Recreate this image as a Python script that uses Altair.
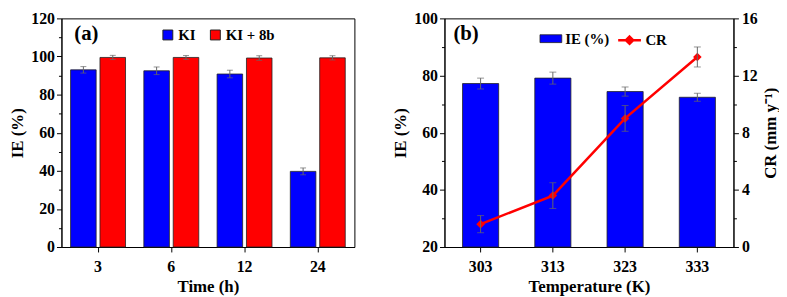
import altair as alt
import pandas as pd

# ---- data panel (a) ----
time = ["3", "6", "12", "24"]
ki = [93.0, 92.5, 90.8, 39.7]
ki_err = [1.7, 2.0, 2.0, 1.8]
ki8b = [99.5, 99.5, 99.2, 99.3]
ki8b_err = [1.1, 1.0, 1.2, 1.1]
series_a = ["KI", "KI + 8b"]

# ---- data panel (b) ----
temp = ["303", "313", "323", "333"]
ie = [77.2, 79.1, 74.4, 72.4]
ie_err = [1.9, 2.1, 1.6, 1.4]
cr = [1.6, 3.6, 9.0, 13.3]
cr_err = [0.6, 0.9, 0.9, 0.7]

FONT = "Liberation Serif"
BLUE = "#0000FF"
RED = "#FF0000"
ERRC = "#666666"

dfa = pd.DataFrame({
    "time": time * 2,
    "series": [series_a[0]] * 4 + [series_a[1]] * 4,
    "ie": ki + ki8b,
    "err": ki_err + ki8b_err,
})
dfa["lo"] = dfa["ie"] - dfa["err"]
dfa["hi"] = dfa["ie"] + dfa["err"]

dfb = pd.DataFrame({"temp": temp, "ie": ie, "ie_err": ie_err, "cr": cr, "cr_err": cr_err})
dfb["ie_lo"] = dfb["ie"] - dfb["ie_err"]
dfb["ie_hi"] = dfb["ie"] + dfb["ie_err"]
dfb["cr_lo"] = dfb["cr"] - dfb["cr_err"]
dfb["cr_hi"] = dfb["cr"] + dfb["cr_err"]
dfb["s_ie"] = "IE (%)"
dfb["s_cr"] = "CR"


def minor_size(test, major=5, minor=3):
    return {"condition": {"test": test, "value": minor}, "value": major}

# ---------- panel (a) ----------
xa = alt.X("time:N", sort=time, title="Time (h)",
           scale=alt.Scale(paddingInner=0.25, paddingOuter=0.125),
           axis=alt.Axis(labelAngle=0, tickSize=5, labelPadding=7, titlePadding=4))
xoff = alt.XOffset("series:N", sort=series_a, scale=alt.Scale(paddingInner=0.13, paddingOuter=0))
ya_axis = alt.Axis(values=list(range(0, 121, 10)), labelOverlap=False,
                   labelExpr="datum.value % 20 === 0 ? datum.label : ''",
                   tickSize=minor_size("datum.value % 20 !== 0", 5, 3),
                   labelPadding=2, titlePadding=4)
ya_scale = alt.Scale(domain=[0, 120], nice=False)

base_a = alt.Chart(dfa).encode(x=xa, xOffset=xoff)

bars_a = base_a.mark_bar(stroke="#222222", strokeWidth=0.8).encode(
    y=alt.Y("ie:Q", scale=ya_scale, axis=ya_axis, title="IE (%)"),
    color=alt.Color("series:N", sort=series_a,
                    scale=alt.Scale(domain=series_a, range=[BLUE, RED]),
                    legend=alt.Legend(title=None, orient="none", direction="horizontal",
                                      legendX=100, legendY=9,
                                      symbolType="square", symbolSize=100,
                                      symbolStrokeColor="#222222", symbolStrokeWidth=1,
                                      columnPadding=12)),
)
err_a = base_a.mark_rule(color=ERRC, strokeWidth=1).encode(
    y=alt.Y("lo:Q", scale=ya_scale, axis=ya_axis, title="IE (%)"), y2="hi:Q")
cap_lo_a = base_a.mark_tick(color=ERRC, thickness=1, size=6).encode(
    y=alt.Y("lo:Q", scale=ya_scale, axis=ya_axis, title="IE (%)"))
cap_hi_a = base_a.mark_tick(color=ERRC, thickness=1, size=6).encode(
    y=alt.Y("hi:Q", scale=ya_scale, axis=ya_axis, title="IE (%)"))
lab_a = alt.Chart(pd.DataFrame({"t": ["(a)"]})).mark_text(
    fontSize=21, align="left", baseline="middle"
).encode(text="t:N", x=alt.value(13), y=alt.value(16))

panel_a = alt.layer(bars_a, err_a, cap_lo_a, cap_hi_a, lab_a).properties(width=296, height=231)

# ---------- panel (b) ----------
xb = alt.X("temp:N", sort=temp, title="Temperature (K)",
           scale=alt.Scale(paddingInner=0.5, paddingOuter=0.25),
           axis=alt.Axis(labelAngle=0, tickSize=5, labelPadding=7, titlePadding=4))
yb_scale = alt.Scale(domain=[20, 100], nice=False)
yb_axis = alt.Axis(values=list(range(20, 101, 10)), labelOverlap=False,
                   labelExpr="datum.value % 20 === 0 ? datum.label : ''",
                   tickSize=minor_size("datum.value % 20 !== 0", 5, 3),
                   labelPadding=2, titlePadding=4)
yc_scale = alt.Scale(domain=[0, 16], nice=False)
yc_axis = alt.Axis(orient="right", values=list(range(0, 17, 2)), labelOverlap=False,
                   labelExpr="datum.value % 4 === 0 ? datum.label : ''",
                   tickSize=minor_size("datum.value % 4 !== 0", 5, 3),
                   labelPadding=3, titlePadding=5, titleAngle=270, titleBaseline="top")

base_b = alt.Chart(dfb).encode(x=xb)

bars_b = base_b.mark_bar(stroke="#222222", strokeWidth=0.8).encode(
    y=alt.Y("ie:Q", scale=yb_scale, axis=yb_axis, title="IE (%)"),
    y2=alt.datum(20),
    color=alt.Color("s_ie:N", scale=alt.Scale(domain=["IE (%)"], range=[BLUE]),
                    legend=alt.Legend(title=None, orient="none", legendX=96, legendY=9,
                                      symbolType="M-1,-0.36H1V0.36H-1Z", symbolSize=484,
                                      symbolStrokeColor="#222222", symbolStrokeWidth=0.8)),
)
err_b = base_b.mark_rule(color=ERRC, strokeWidth=1).encode(
    y=alt.Y("ie_lo:Q", scale=yb_scale, axis=yb_axis, title="IE (%)"), y2="ie_hi:Q")
cap_lo_b = base_b.mark_tick(color=ERRC, thickness=1, size=7).encode(
    y=alt.Y("ie_lo:Q", scale=yb_scale, axis=yb_axis, title="IE (%)"))
cap_hi_b = base_b.mark_tick(color=ERRC, thickness=1, size=7).encode(
    y=alt.Y("ie_hi:Q", scale=yb_scale, axis=yb_axis, title="IE (%)"))
left_b = alt.layer(bars_b, err_b, cap_lo_b, cap_hi_b)

line_b = base_b.mark_line(strokeWidth=2.5).encode(
    y=alt.Y("cr:Q", scale=yc_scale, axis=yc_axis, title="CR (mm y⁻¹)"),
    stroke=alt.Stroke("s_cr:N", scale=alt.Scale(domain=["CR"], range=[RED]),
                      legend=alt.Legend(title=None, orient="none", legendX=174, legendY=9,
                                        symbolType="M-1,0H1M0,-0.32L0.32,0L0,0.32L-0.32,0Z",
                                        symbolSize=529, symbolStrokeWidth=2.5,
                                        symbolFillColor=RED)),
)
pts_b = base_b.mark_point(shape="diamond", filled=True, size=75, color=RED, opacity=1).encode(
    y=alt.Y("cr:Q", scale=yc_scale, axis=yc_axis, title="CR (mm y⁻¹)"))
err_c = base_b.mark_rule(color=ERRC, strokeWidth=1).encode(
    y=alt.Y("cr_lo:Q", scale=yc_scale, axis=yc_axis, title="CR (mm y⁻¹)"), y2="cr_hi:Q")
cap_lo_c = base_b.mark_tick(color=ERRC, thickness=1, size=7).encode(
    y=alt.Y("cr_lo:Q", scale=yc_scale, axis=yc_axis, title="CR (mm y⁻¹)"))
cap_hi_c = base_b.mark_tick(color=ERRC, thickness=1, size=7).encode(
    y=alt.Y("cr_hi:Q", scale=yc_scale, axis=yc_axis, title="CR (mm y⁻¹)"))
right_b = alt.layer(line_b, pts_b, err_c, cap_lo_c, cap_hi_c)

lab_b = alt.Chart(pd.DataFrame({"t": ["(b)"]})).mark_text(
    fontSize=21, align="left", baseline="middle"
).encode(text="t:N", x=alt.value(9), y=alt.value(16))

panel_b = alt.layer(left_b, right_b, lab_b).resolve_scale(
    y="independent", color="independent", stroke="independent"
).properties(width=292, height=231)

chart = alt.hconcat(panel_a, panel_b, spacing=36).properties(
    padding={"left": 0, "top": 0, "right": 0, "bottom": 0}
).configure(font=FONT).configure_view(
    stroke="black", strokeWidth=1
).configure_axis(
    labelFont=FONT, labelFontWeight="bold", labelFontSize=16, labelColor="black",
    titleFont=FONT, titleFontWeight="bold", titleFontSize=17, titleColor="black",
    domainColor="black", tickColor="black", grid=False, labelOverlap=False,
).configure_legend(
    padding=0, labelFont=FONT, labelFontWeight="bold", labelFontSize=15, labelColor="black",
    labelOffset=3, symbolOpacity=1,
).configure_text(font=FONT, fontWeight="bold", color="black")

chart.save("out.html", embed_options={"renderer": "svg", "actions": False})
